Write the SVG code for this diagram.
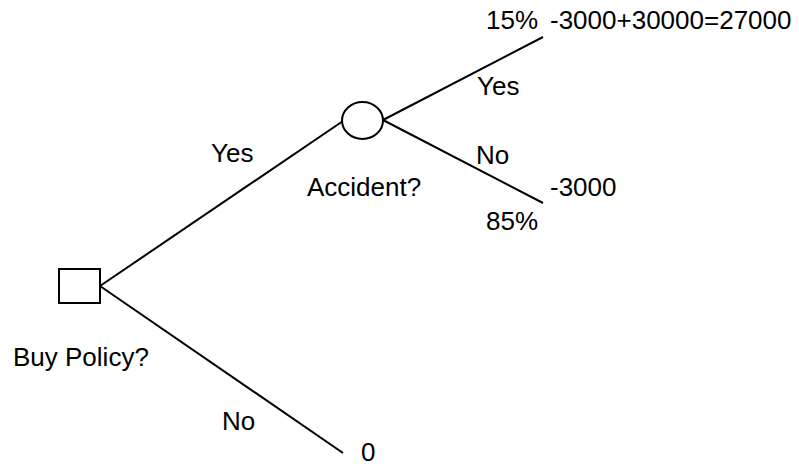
<svg xmlns="http://www.w3.org/2000/svg" width="799" height="466" viewBox="0 0 799 466">
  <style>
    .edge { stroke: #000; stroke-width: 2; fill: none; }
    .node { stroke: #000; stroke-width: 2; fill: #fff; }
    text { font-family: "Liberation Sans", Arial, sans-serif; font-size: 26px; fill: #000; }
  </style>
  <rect width="799" height="466" fill="#fff"/>
  <g id="connectors">
    <line class="edge" x1="100" y1="286" x2="343" y2="121"/>
    <line class="edge" x1="100" y1="286" x2="343" y2="453"/>
    <line class="edge" x1="383" y1="120" x2="543" y2="37"/>
    <line class="edge" x1="383" y1="120" x2="543" y2="203"/>
  </g>
  <g id="buy-policy">
    <rect class="node" x="59" y="269" width="41" height="34"/>
    <text x="13" y="366">Buy Policy?</text>
  </g>
  <g id="accident">
    <ellipse class="node" cx="362.5" cy="120.5" rx="20.5" ry="18.5"/>
    <text x="307" y="196">Accident?</text>
  </g>
  <g id="labels">
    <text x="211" y="162">Yes</text>
    <text x="222" y="430">No</text>
    <text x="477" y="95">Yes</text>
    <text x="476" y="164">No</text>
    <text x="486" y="29">15%</text>
    <text x="486" y="230">85%</text>
  </g>
  <g id="outcome-accident">
    <text x="550" y="29">-3000+30000=27000</text>
  </g>
  <g id="outcome-no-accident">
    <text x="550" y="196">-3000</text>
  </g>
  <g id="outcome-no-policy">
    <text x="361" y="461">0</text>
  </g>
</svg>
